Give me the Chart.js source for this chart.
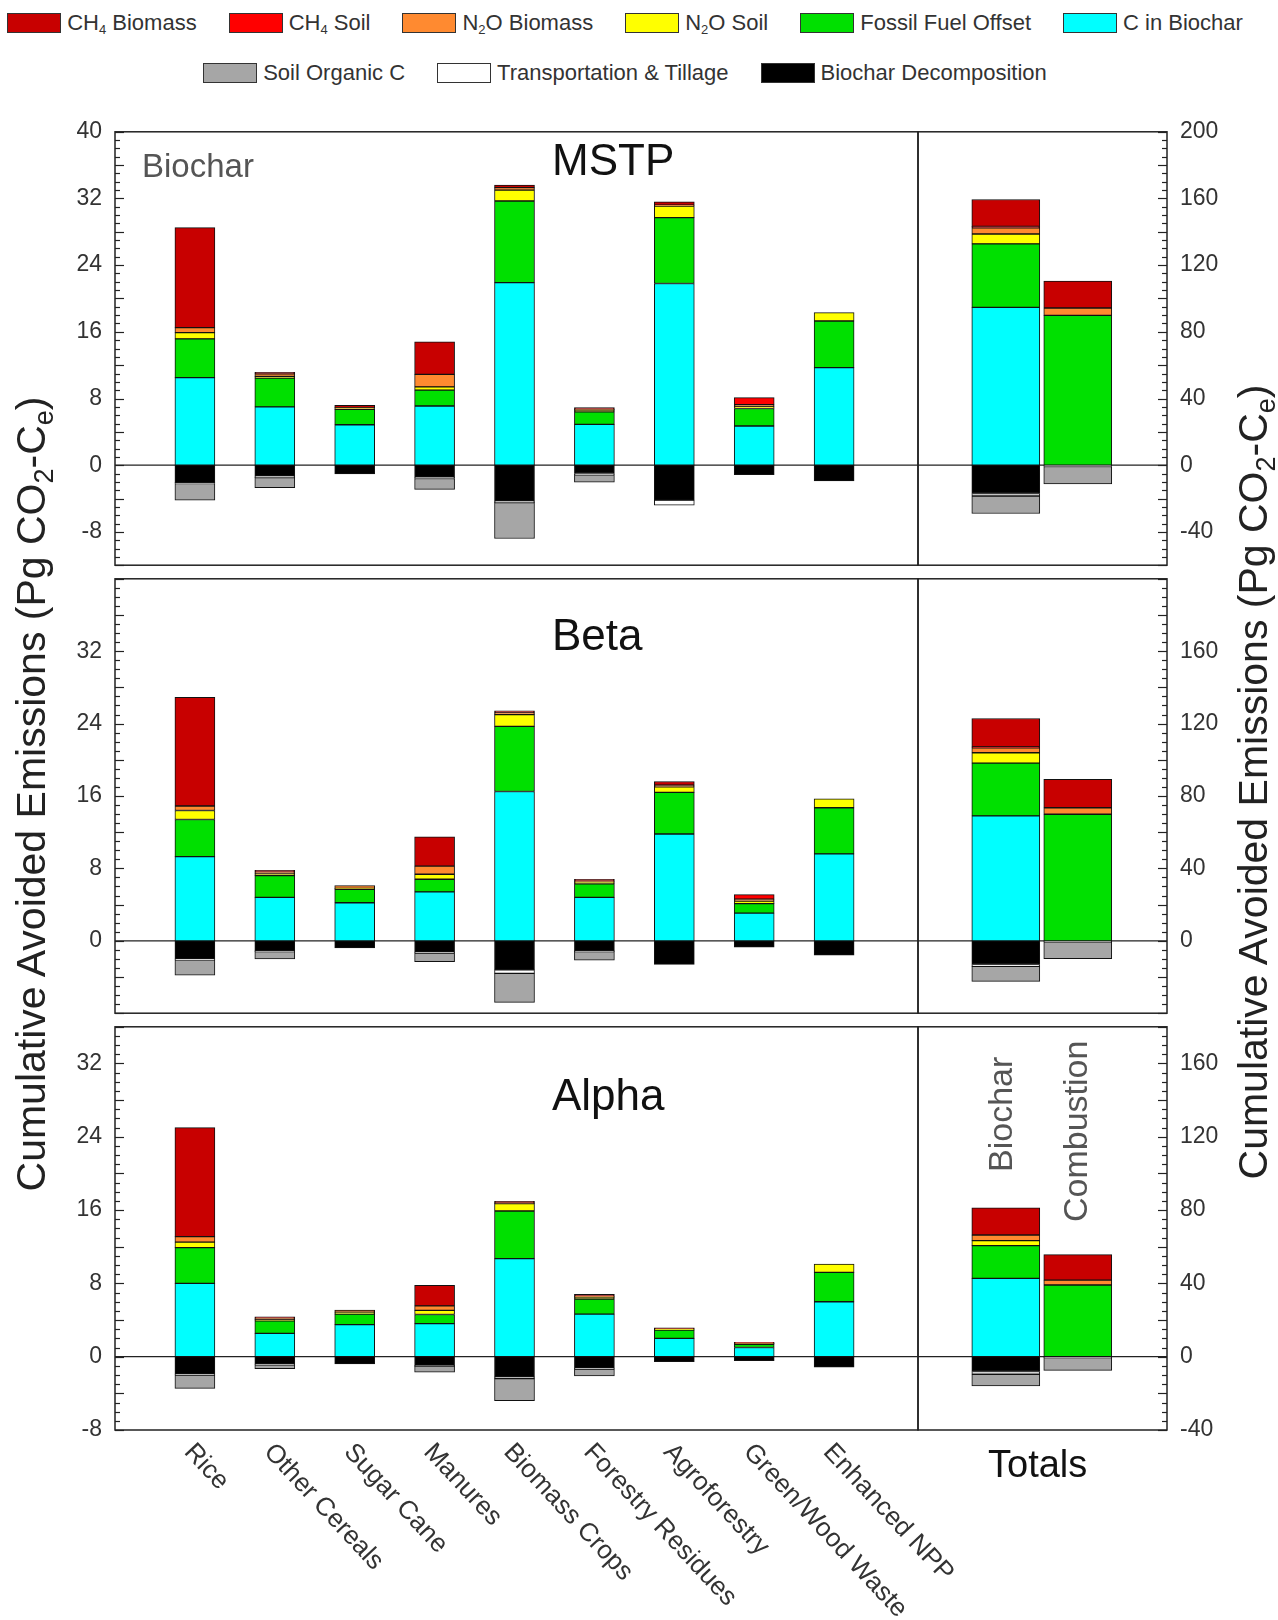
<!DOCTYPE html>
<html>
<head>
<meta charset="utf-8">
<title>Cumulative avoided emissions by feedstock</title>
<script src="https://cdn.jsdelivr.net/npm/chart.js@4.4.1/dist/chart.umd.min.js"></script>
<style>
  body { margin: 0; background: #fff; }
  #page { position: relative; width: 1278px; height: 1620px; overflow: hidden;
          font-family: "Liberation Sans", Arial, sans-serif; color: #222; }
  #page canvas { position: absolute; }
  .legend-row { position: absolute; left: 0; width: 1250px; display: flex; justify-content: center;
                gap: 32px; font-size: 22px; line-height: 20px; color: #333; }
  .legend-item { display: flex; align-items: center; white-space: nowrap; }
  .swatch { width: 52px; height: 18px; border: 1px solid #333; margin-right: 6px; }
  .legend-item sub { font-size: 13px; vertical-align: -4px; line-height: 0; }
  .note { position: absolute; line-height: 1; white-space: nowrap; }
  .vtitle { position: absolute; width: 1000px; height: 40px; text-align: center; font-size: 41px;
            line-height: 40px; white-space: nowrap; transform: rotate(-90deg); color: #222; }
  .vtitle sub { font-size: 27px; vertical-align: -8px; line-height: 0; }
</style>
</head>
<body>
<div id="page">
  <div class="legend-row" id="legend1" style="top:13px"></div>
  <div class="legend-row" id="legend2" style="top:63px"></div>

  <div class="note" style="left:142px;top:149px;font-size:33px;color:#555">Biochar</div>
  <div class="note" style="left:552px;top:138px;font-size:44px;color:#111">MSTP</div>
  <div class="note" style="left:552px;top:613px;font-size:44px;color:#111">Beta</div>
  <div class="note" style="left:552px;top:1073px;font-size:44px;color:#111">Alpha</div>
  <div class="note" style="left:983px;top:1172px;font-size:34px;color:#555;transform-origin:0 0;transform:rotate(-90deg)">Biochar</div>
  <div class="note" style="left:1058px;top:1222px;font-size:34px;color:#555;transform-origin:0 0;transform:rotate(-90deg)">Combustion</div>
  <div class="note" style="left:988px;top:1445px;font-size:38px;color:#111">Totals</div>

  <div class="vtitle" style="left:-469px;top:774px">Cumulative Avoided Emissions (Pg CO<sub>2</sub>-C<sub>e</sub>)</div>
  <div class="vtitle" style="left:753px;top:762px">Cumulative Avoided Emissions (Pg CO<sub>2</sub>-C<sub>e</sub>)</div>
</div>

<script>
    'use strict';

    // ---- data (Pg CO2-Ce) ----
    const categories = ['Rice', 'Other Cereals', 'Sugar Cane', 'Manures', 'Biomass Crops',
        'Forestry Residues', 'Agroforestry', 'Green/Wood Waste', 'Enhanced NPP'];
    const totalsLabels = ['Biochar', 'Combustion'];

    // stacking order: positives from the zero line up, then negatives from the zero line down
    const seriesNames = ['C in Biochar', 'Fossil Fuel Offset', 'N2O Soil', 'N2O Biomass', 'CH4 Soil',
        'CH4 Biomass', 'Biochar Decomposition', 'Transportation & Tillage', 'Soil Organic C'];
    const seriesColors = ['#00ffff', '#00e000', '#ffff00', '#ff8a30', '#ff0000',
        '#c80000', '#000000', '#ffffff', '#a6a6a6'];
    // legend reads top of stack first
    const legendOrder = [5, 4, 3, 2, 1, 0, 8, 7, 6];

    // rows follow seriesNames, columns follow categories
    const mstpByCrop = [
        [10.5, 7.0, 4.85, 7.1, 21.9, 4.9, 21.8, 4.7, 11.7],
        [4.65, 3.45, 1.85, 1.9, 9.8, 1.5, 7.9, 2.1, 5.6],
        [0.75, 0.2, 0.1, 0.4, 1.3, 0.2, 1.4, 0.2, 1.0],
        [0.6, 0.3, 0.1, 1.5, 0.3, 0.1, 0.1, 0.25, 0],
        [0, 0, 0, 0, 0, 0, 0, 0.85, 0],
        [12.0, 0.2, 0.27, 3.9, 0.3, 0.2, 0.4, 0, 0],
        [-2.1, -1.3, -1.05, -1.45, -4.3, -1.0, -4.2, -1.15, -1.9],
        [-0.1, -0.2, 0, -0.15, -0.2, -0.15, -0.6, 0, 0],
        [-2.0, -1.2, 0, -1.3, -4.3, -0.9, 0, 0, 0]
    ];
    const betaByCrop = [
        [9.3, 4.8, 4.2, 5.4, 16.5, 4.8, 11.8, 3.05, 9.6],
        [4.1, 2.4, 1.5, 1.4, 7.2, 1.5, 4.6, 1.05, 5.1],
        [1.0, 0.2, 0.1, 0.55, 1.3, 0.2, 0.6, 0.3, 1.0],
        [0.5, 0.2, 0.3, 0.9, 0.2, 0.1, 0.2, 0.2, 0],
        [0, 0, 0, 0, 0, 0, 0, 0.5, 0],
        [12.0, 0.2, 0, 3.25, 0.2, 0.2, 0.4, 0, 0],
        [-2.0, -1.1, -0.8, -1.25, -3.2, -1.1, -2.6, -0.7, -1.6],
        [-0.1, -0.1, 0, -0.1, -0.4, -0.1, 0, 0, 0],
        [-1.7, -0.8, 0, -0.95, -3.2, -0.95, 0, 0, 0]
    ];
    const alphaByCrop = [
        [8.0, 2.55, 3.5, 3.6, 10.7, 4.65, 2.0, 1.0, 6.0],
        [3.9, 1.35, 1.15, 1.0, 5.2, 1.65, 0.9, 0.36, 3.2],
        [0.6, 0.15, 0.2, 0.45, 0.8, 0.2, 0.1, 0.05, 0.9],
        [0.6, 0.15, 0.25, 0.5, 0.1, 0.1, 0.05, 0.05, 0],
        [0, 0, 0, 0, 0, 0, 0, 0.1, 0],
        [11.9, 0.15, 0, 2.25, 0.15, 0.2, 0.1, 0, 0],
        [-1.9, -0.8, -0.8, -0.95, -2.2, -1.25, -0.55, -0.43, -1.15],
        [-0.1, -0.1, 0, -0.1, -0.2, -0.1, 0, 0, 0],
        [-1.45, -0.4, 0, -0.65, -2.4, -0.75, 0, 0, 0]
    ];

    // rows follow seriesNames, columns follow totalsLabels
    const mstpTotals = [[94.7, 0], [38.1, 89.9], [5.9, 0], [3.7, 4.4], [0.9, 0], [16.1, 16.2], [-17, 0], [-1.5, -0.8], [-10.5, -10.4]];
    const betaTotals = [[69.0, 0], [29.2, 69.9], [5.7, 0], [2.7, 3.6], [0.5, 0], [15.7, 15.7], [-13.1, 0], [-1.0, -0.5], [-8.3, -9.4]];
    const alphaTotals = [[42.7, 0], [17.9, 39.1], [2.7, 0], [3.0, 2.7], [0.1, 0], [14.8, 13.9], [-8.1, 0], [-1.5, -0.5], [-6.3, -7.0]];

    // axis ranges and labelled ticks (left = per feedstock, right = totals)
    const mstpLeftRange = [-12, 40];
    const betaLeftRange = [-8, 40];
    const alphaLeftRange = [-8, 36];
    const totalsFactor = 5;
    const mstpLeftTicks = [-8, 0, 8, 16, 24, 32, 40];
    const betaLeftTicks = [0, 8, 16, 24, 32];
    const alphaLeftTicks = [-8, 0, 8, 16, 24, 32];
    const mstpRightTicks = [-40, 0, 40, 80, 120, 160, 200];
    const betaRightTicks = [0, 40, 80, 120, 160];
    const alphaRightTicks = [-40, 0, 40, 80, 120, 160];

    // ---- layout ----
    const FONT = '"Liberation Sans", Arial, sans-serif';
    const page = document.getElementById('page');

    const panels = [
        { top: 125, bottom: 572, crops: mstpByCrop, totals: mstpTotals, range: mstpLeftRange, lTicks: mstpLeftTicks, rTicks: mstpRightTicks },
        { top: 572, bottom: 1020, crops: betaByCrop, totals: betaTotals, range: betaLeftRange, lTicks: betaLeftTicks, rTicks: betaRightTicks },
        { top: 1020, bottom: 1430, crops: alphaByCrop, totals: alphaTotals, range: alphaLeftRange, lTicks: alphaLeftTicks, rTicks: alphaRightTicks }
    ];

    /**
     * Box around the plot area, zero line and inward minor/major ticks.
     */
    const framePlugin = {
        id: 'frame',
        beforeDatasetsDraw(chart) {
            const { ctx, chartArea: a } = chart;
            const y0 = chart.scales.y.getPixelForValue(0);
            ctx.save();
            ctx.strokeStyle = '#222';
            ctx.lineWidth = 1.3;
            ctx.beginPath();
            ctx.moveTo(a.left, y0);
            ctx.lineTo(a.right, y0);
            ctx.stroke();
            ctx.restore();
        },
        afterDraw(chart, args, opts) {
            const { ctx, chartArea: a } = chart;
            const ys = chart.scales.y;
            ctx.save();
            ctx.strokeStyle = '#222';
            ctx.lineWidth = 1.5;
            ctx.strokeRect(a.left, a.top, a.right - a.left, a.bottom - a.top);

            const x0 = opts.side === 'left' ? a.left : a.right;
            const dir = opts.side === 'left' ? 1 : -1;
            ctx.lineWidth = 1.2;
            for (let i = Math.ceil(ys.min / opts.minor); i * opts.minor <= ys.max; i++) {
                const v = i * opts.minor;
                const len = Math.abs(v % opts.major) < 1e-9 ? 9 : 5;
                const py = Math.round(ys.getPixelForValue(v)) + 0.5;
                ctx.beginPath();
                ctx.moveTo(x0, py);
                ctx.lineTo(x0 + dir * len, py);
                ctx.stroke();
            }
            ctx.restore();
        }
    };

    /**
     * Slanted feedstock names under the bottom panel.
     */
    const cropLabelPlugin = {
        id: 'cropLabels',
        afterDraw(chart, args, opts) {
            if (!opts.labels) {
                return;
            }
            const { ctx, chartArea } = chart;
            const xs = chart.scales.x;
            ctx.save();
            ctx.font = `26px ${FONT}`;
            ctx.fillStyle = '#333';
            ctx.textAlign = 'left';
            ctx.textBaseline = 'top';
            opts.labels.forEach((label, i) => {
                ctx.save();
                ctx.translate(xs.getPixelForValue(i + 1) + 3, chartArea.bottom + 9);
                ctx.rotate(47 * Math.PI / 180);
                ctx.fillText(label, 0, 0);
                ctx.restore();
            });
            ctx.restore();
        }
    };

    function addCanvas(left, top, width, height) {
        const c = document.createElement('canvas');
        c.width = width;
        c.height = height;
        c.style.left = left + 'px';
        c.style.top = top + 'px';
        c.style.width = width + 'px';
        c.style.height = height + 'px';
        page.insertBefore(c, page.firstChild); // text overlays stay on top
        return c;
    }

    function buildDatasets(rows, barWidth) {
        return seriesNames.map((name, i) => ({
            label: name,
            data: rows[i].map((v, j) => ({ x: j + 1, y: v === 0 ? null : v })),
            backgroundColor: seriesColors[i],
            borderColor: '#111',
            borderWidth: 1,
            borderSkipped: false,
            barThickness: barWidth
        }));
    }

    function stackedChart(canvas, datasets, o) {
        return new Chart(canvas, {
            type: 'bar',
            data: { datasets: datasets },
            options: {
                responsive: false,
                animation: false,
                layout: { padding: o.padding },
                scales: {
                    x: { type: 'linear', offset: false, min: o.xRange[0], max: o.xRange[1], stacked: true, display: false },
                    y: {
                        position: o.side,
                        min: o.yRange[0],
                        max: o.yRange[1],
                        stacked: true,
                        afterBuildTicks: axis => { axis.ticks = o.ticks.map(v => ({ value: v })); },
                        afterFit: axis => { axis.width = o.axisWidth; },
                        grid: { display: false, drawTicks: false },
                        border: { display: false },
                        ticks: { color: '#333', padding: 13, font: { family: FONT, size: 23 } }
                    }
                },
                plugins: {
                    legend: { display: false },
                    tooltip: { enabled: false },
                    frame: { side: o.side, minor: o.minor, major: o.major },
                    cropLabels: { labels: o.labels || null }
                }
            },
            plugins: [framePlugin, cropLabelPlugin]
        });
    }

    panels.forEach((p, k) => {
        const last = k === panels.length - 1;
        const padTop = 20;
        const padBottom = last ? 190 : 20;
        const height = (p.bottom - p.top) + padTop + padBottom;
        const canvasTop = p.top - padTop;

        // feedstock section, left axis (canvas runs past the divider so slanted labels are not cut)
        stackedChart(addCanvas(0, canvasTop, 1000, height), buildDatasets(p.crops, 40), {
            side: 'left',
            padding: { top: padTop, bottom: padBottom, left: 0, right: 82 },
            axisWidth: 115,
            xRange: [0, 10.05],
            yRange: p.range,
            ticks: p.lTicks,
            minor: 1,
            major: 4,
            labels: last ? categories : null
        });

        // totals section, right axis
        stackedChart(addCanvas(906, canvasTop, 372, height), buildDatasets(p.totals, 68), {
            side: 'right',
            padding: { top: padTop, bottom: padBottom, left: 12, right: 0 },
            axisWidth: 111,
            xRange: [-0.22, 3.24],
            yRange: p.range.map(v => v * totalsFactor),
            ticks: p.rTicks,
            minor: 5,
            major: 20
        });
    });

    // legend, two centred rows
    const legendRows = [document.getElementById('legend1'), document.getElementById('legend2')];
    legendOrder.forEach((si, k) => {
        const item = document.createElement('div');
        item.className = 'legend-item';
        const text = seriesNames[si].replace(/([A-Z])(\d)/g, '$1<sub>$2</sub>');
        item.innerHTML = `<span class="swatch" style="background:${seriesColors[si]}"></span><span>${text}</span>`;
        legendRows[k < 6 ? 0 : 1].appendChild(item);
    });
</script>
</body>
</html>
